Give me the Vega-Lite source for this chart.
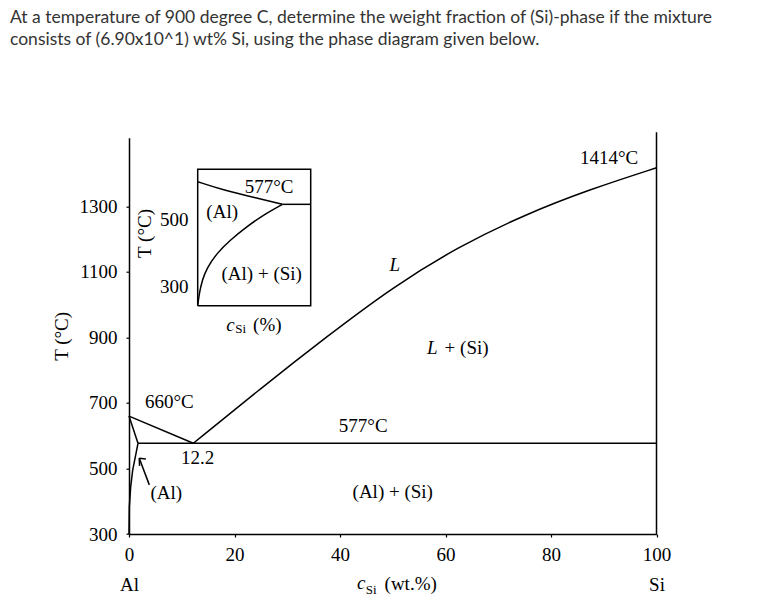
{
  "$schema": "https://vega.github.io/schema/vega-lite/v6.json",
  "width": 527.5,
  "height": 396.3,
  "autosize": "none",
  "padding": {"left": 129, "top": 137.7, "right": 125.5, "bottom": 82},
  "background": "white",
  "config": {
    "view": {"stroke": null},
    "font": "Liberation Serif",
    "text": {"font": "Liberation Serif", "fontSize": 19, "color": "black", "baseline": "middle", "align": "center"},
    "line": {"color": "black", "strokeWidth": 1.5}
  },
  "title": {
    "text": ["At a temperature of 900 degree C, determine the weight fraction of (Si)-phase if the mixture", "consists of (6.90x10^1) wt% Si, using the phase diagram given below."],
    "anchor": "start",
    "frame": "group",
    "dx": -119,
    "offset": 81,
    "font": "Lato",
    "fontSize": 17.5,
    "fontWeight": "normal",
    "color": "#333333",
    "lineHeight": 22
  },
  "datasets": {
    "mainLines": [
      {"seg": "liqAl", "o": 0, "c": 0, "T": 660},
      {"seg": "liqAl", "o": 1, "c": 12.2, "T": 577},
      {"seg": "solidus", "o": 0, "c": 0, "T": 660},
      {"seg": "solidus", "o": 1, "c": 1.7, "T": 577},
      {"seg": "solvus", "o": 0, "c": 1.7, "T": 577},
      {"seg": "solvus", "o": 1, "c": 1.33, "T": 546},
      {"seg": "solvus", "o": 2, "c": 0.7, "T": 495},
      {"seg": "solvus", "o": 3, "c": 0.32, "T": 444},
      {"seg": "solvus", "o": 4, "c": 0.06, "T": 383},
      {"seg": "solvus", "o": 5, "c": 0, "T": 300},
      {"seg": "eutectic", "o": 0, "c": 1.7, "T": 577},
      {"seg": "eutectic", "o": 1, "c": 100, "T": 577},
      {"seg": "siEdge", "o": 0, "c": 100, "T": 300},
      {"seg": "siEdge", "o": 1, "c": 100, "T": 1527},
      {"seg": "arrow", "o": 0, "c": 3.85, "T": 450},
      {"seg": "arrow", "o": 1, "c": 1.95, "T": 531},
      {"seg": "barb1", "o": 0, "c": 1.95, "T": 531},
      {"seg": "barb1", "o": 1, "c": 3.2, "T": 529},
      {"seg": "barb2", "o": 0, "c": 1.95, "T": 531},
      {"seg": "barb2", "o": 1, "c": 2.0, "T": 508}
    ],
    "liquidusSi": [
      {"c": 12.2, "T": 577},
      {"c": 25, "T": 745},
      {"c": 37.5, "T": 903},
      {"c": 50, "T": 1054},
      {"c": 62.5, "T": 1178},
      {"c": 75, "T": 1275},
      {"c": 87.5, "T": 1353},
      {"c": 100, "T": 1418}
    ],
    "mainText": [
      {"c": 91.0, "T": 1448, "label": "1414°C"},
      {"c": 64.0, "T": 869, "label": "+ (Si)"},
      {"c": 44.4, "T": 630, "label": "577°C"},
      {"c": 50.0, "T": 429, "label": "(Al) + (Si)"},
      {"c": 7.65, "T": 704, "label": "660°C"},
      {"c": 13.0, "T": 531, "label": "12.2"},
      {"c": 7.07, "T": 424, "label": "(Al)"},
      {"c": 53.4, "T": 147, "label": "(wt.%)"}
    ],
    "mainItalic": [
      {"c": 50.4, "T": 1121, "label": "L"},
      {"c": 57.5, "T": 869, "label": "L"},
      {"c": 44.0, "T": 150, "label": "c"}
    ],
    "mainSmall": [
      {"c": 45.9, "T": 129, "label": "Si"}
    ],
    "insetLines": [
      {"seg": "box", "o": 0, "ic": 0, "iT": 250},
      {"seg": "box", "o": 1, "ic": 2.2, "iT": 250},
      {"seg": "box", "o": 2, "ic": 2.2, "iT": 690},
      {"seg": "box", "o": 3, "ic": 0, "iT": 690},
      {"seg": "box", "o": 4, "ic": 0, "iT": 250},
      {"seg": "eut", "o": 0, "ic": 1.65, "iT": 577},
      {"seg": "eut", "o": 1, "ic": 2.2, "iT": 577}
    ],
    "insetCurves": [
      {"seg": "upper", "ic": 0, "iT": 650},
      {"seg": "upper", "ic": 0.5, "iT": 623},
      {"seg": "upper", "ic": 1.15, "iT": 597},
      {"seg": "upper", "ic": 1.65, "iT": 577},
      {"seg": "lower", "ic": 0, "iT": 250},
      {"seg": "lower", "ic": 0.03, "iT": 290},
      {"seg": "lower", "ic": 0.09, "iT": 333},
      {"seg": "lower", "ic": 0.175, "iT": 370},
      {"seg": "lower", "ic": 0.37, "iT": 419},
      {"seg": "lower", "ic": 0.633, "iT": 462},
      {"seg": "lower", "ic": 0.958, "iT": 505},
      {"seg": "lower", "ic": 1.28, "iT": 543},
      {"seg": "lower", "ic": 1.65, "iT": 577}
    ],
    "insetText": [
      {"ic": 1.39, "iT": 634, "label": "577°C"},
      {"ic": 0.477, "iT": 553, "label": "(Al)"},
      {"ic": 1.246, "iT": 352, "label": "(Al) + (Si)"},
      {"ic": -0.458, "iT": 526, "label": "500"},
      {"ic": -0.458, "iT": 309, "label": "300"},
      {"ic": 1.355, "iT": 188, "label": "(%)"}
    ],
    "insetItalic": [
      {"ic": 0.64, "iT": 188, "label": "c"}
    ],
    "insetSmall": [
      {"ic": 0.837, "iT": 174, "label": "Si"}
    ],
    "insetRotated": [
      {"ic": -1.026, "iT": 483, "label": "T (°C)"}
    ]
  },
  "layer": [
    {
      "encoding": {
        "x": {
          "field": "c", "type": "quantitative",
          "scale": {"domain": [0, 100], "nice": false, "zero": false},
          "axis": {
            "values": [0, 20, 40, 60, 80, 100],
            "title": null, "grid": false,
            "domainColor": "black", "domainWidth": 1.5,
            "tickColor": "black", "tickSize": 3, "tickWidth": 1.2,
            "labelFont": "Liberation Serif", "labelFontSize": 19, "labelColor": "black",
            "labelPadding": 8, "labelLineHeight": 30, "labelFlush": false, "labelOverlap": false,
            "labelExpr": "datum.value == 0 ? ['0', 'Al'] : datum.value == 100 ? ['100', 'Si'] : datum.label"
          }
        },
        "y": {
          "field": "T", "type": "quantitative",
          "scale": {"domain": [300, 1510], "nice": false, "zero": false},
          "axis": {
            "values": [300, 500, 700, 900, 1100, 1300],
            "format": "d",
            "title": "T (°C)", "titleFont": "Liberation Serif", "titleFontSize": 19,
            "titleFontWeight": "normal", "titleColor": "black", "titlePadding": 8,
            "grid": false,
            "domainColor": "black", "domainWidth": 1.5,
            "tickColor": "black", "tickSize": 3, "tickWidth": 1.2,
            "labelFont": "Liberation Serif", "labelFontSize": 19, "labelColor": "black",
            "labelPadding": 9, "labelFlush": false, "labelOverlap": false
          }
        }
      },
      "layer": [
        {
          "data": {"name": "mainLines"},
          "mark": {"type": "line", "color": "black", "strokeWidth": 1.5},
          "encoding": {
            "detail": {"field": "seg", "type": "nominal"},
            "order": {"field": "o", "type": "quantitative"}
          }
        },
        {
          "data": {"name": "liquidusSi"},
          "mark": {"type": "line", "color": "black", "strokeWidth": 1.5, "interpolate": "basis"},
          "encoding": {}
        },
        {
          "data": {"name": "mainText"},
          "mark": {"type": "text"},
          "encoding": {"text": {"field": "label", "type": "nominal"}}
        },
        {
          "data": {"name": "mainItalic"},
          "mark": {"type": "text", "fontStyle": "italic"},
          "encoding": {"text": {"field": "label", "type": "nominal"}}
        },
        {
          "data": {"name": "mainSmall"},
          "mark": {"type": "text", "fontSize": 13},
          "encoding": {"text": {"field": "label", "type": "nominal"}}
        }
      ]
    },
    {
      "encoding": {
        "x": {
          "field": "ic", "type": "quantitative",
          "scale": {"domain": [0, 2.2], "range": [68.7, 181.7], "nice": false, "zero": false},
          "axis": null
        },
        "y": {
          "field": "iT", "type": "quantitative",
          "scale": {"domain": [250, 690], "range": [168, 31.6], "nice": false, "zero": false},
          "axis": null
        }
      },
      "layer": [
        {
          "data": {"name": "insetLines"},
          "mark": {"type": "line", "color": "black", "strokeWidth": 1.5},
          "encoding": {
            "detail": {"field": "seg", "type": "nominal"},
            "order": {"field": "o", "type": "quantitative"}
          }
        },
        {
          "data": {"name": "insetCurves"},
          "mark": {"type": "line", "color": "black", "strokeWidth": 1.5, "interpolate": "basis"},
          "encoding": {
            "detail": {"field": "seg", "type": "nominal"}
          }
        },
        {
          "data": {"name": "insetText"},
          "mark": {"type": "text"},
          "encoding": {"text": {"field": "label", "type": "nominal"}}
        },
        {
          "data": {"name": "insetItalic"},
          "mark": {"type": "text", "fontStyle": "italic"},
          "encoding": {"text": {"field": "label", "type": "nominal"}}
        },
        {
          "data": {"name": "insetSmall"},
          "mark": {"type": "text", "fontSize": 13},
          "encoding": {"text": {"field": "label", "type": "nominal"}}
        },
        {
          "data": {"name": "insetRotated"},
          "mark": {"type": "text", "angle": 270},
          "encoding": {"text": {"field": "label", "type": "nominal"}}
        }
      ]
    }
  ],
  "resolve": {"scale": {"x": "independent", "y": "independent"}}
}
